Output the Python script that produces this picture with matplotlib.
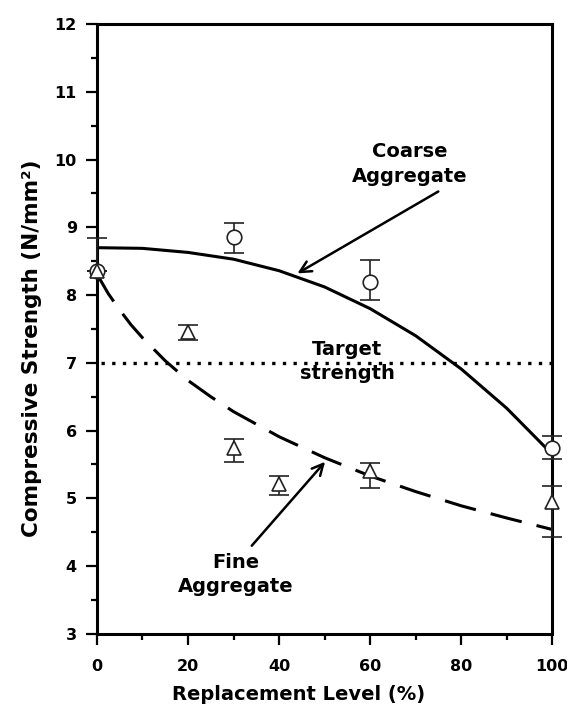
import matplotlib
matplotlib.use("Agg")
import matplotlib.pyplot as plt

plt.rcParams['font.family'] = ['DejaVu Sans']
plt.rcParams['font.weight'] = 'bold'

# Measured points
coarse_x = [0, 30, 60, 100]
coarse_y = [8.35, 8.86, 8.20, 5.74]
coarse_err_lo = [0.0, 0.24, 0.27, 0.16]
coarse_err_hi = [0.50, 0.20, 0.32, 0.18]

fine_x = [0, 20, 30, 40, 60, 100]
fine_y = [8.35, 7.45, 5.75, 5.21, 5.40, 4.95]
fine_err_lo = [0.0, 0.11, 0.22, 0.16, 0.25, 0.52]
fine_err_hi = [0.0, 0.11, 0.13, 0.12, 0.12, 0.23]

# Trend lines
coarse_fit_x = [0, 10, 20, 30, 40, 50, 60, 70, 80, 90, 100]
coarse_fit_y = [8.70, 8.69, 8.63, 8.53, 8.36, 8.12, 7.80, 7.40, 6.91, 6.33, 5.65]

fine_fit_x = [0, 2.5, 5, 7.5, 10, 15, 20, 25, 30, 40, 50, 60, 70, 80, 90, 100]
fine_fit_y = [8.31, 8.02, 7.78, 7.56, 7.37, 7.03, 6.74, 6.50, 6.28, 5.91, 5.60,
              5.33, 5.10, 4.89, 4.71, 4.54]

target_x = [0.8, 100]
target_y = [7.0, 7.0]

fig = plt.figure(figsize=(5.67, 7.09), dpi=100)
ax = fig.add_axes([0.171, 0.106, 0.803, 0.860])

ax.plot(coarse_fit_x, coarse_fit_y, color='black', lw=2.2, zorder=3)
ax.plot(fine_fit_x, fine_fit_y, color='black', lw=2.2, dashes=(10.5, 5), zorder=3)
ax.plot(target_x, target_y, color='black', lw=2.4, linestyle=(0, (1, 2.2)), zorder=3)

ax.errorbar(coarse_x, coarse_y, yerr=[coarse_err_lo, coarse_err_hi], fmt='o',
            ms=10.5, mfc='white', mec='#222222', mew=1.2, ecolor='#222222',
            elinewidth=1.2, capsize=7, capthick=1.2, clip_on=False, zorder=5)
ax.errorbar(fine_x, fine_y, yerr=[fine_err_lo, fine_err_hi], fmt='^',
            ms=10, mfc='white', mec='#222222', mew=1.2, ecolor='#222222',
            elinewidth=1.2, capsize=7, capthick=1.2, clip_on=False, zorder=5)

ax.text(68.8, 9.93, "Coarse\nAggregate", ha='center', va='center', fontsize=14,
        fontweight='bold', linespacing=1.4)
ax.annotate("", xy=(43.5, 8.30), xytext=(75.5, 9.55),
            arrowprops=dict(arrowstyle='->', lw=1.8, color='black',
                            mutation_scale=20))
ax.text(55, 7.02, "Target\nstrength", ha='center', va='center', fontsize=14,
        fontweight='bold', linespacing=1.3, zorder=4)
ax.text(30.5, 3.88, "Fine\nAggregate", ha='center', va='center', fontsize=14,
        fontweight='bold', linespacing=1.35)
ax.annotate("", xy=(50.5, 5.57), xytext=(33.6, 4.27),
            arrowprops=dict(arrowstyle='->', lw=1.8, color='black',
                            mutation_scale=20))

ax.set_xlim(0, 100)
ax.set_ylim(3, 12)
ax.set_xticks(range(0, 101, 20))
ax.set_xticks(range(10, 100, 20), minor=True)
ax.set_yticks(range(3, 13))
ax.set_yticks([v + 0.5 for v in range(3, 12)], minor=True)

for s in ax.spines.values():
    s.set_linewidth(2.2)
ax.tick_params(which='major', direction='out', length=8, width=1.6,
               labelsize=11.5, pad=6.5)
ax.tick_params(which='minor', direction='out', length=4.5, width=1.6)
ax.tick_params(axis='x', which='major', pad=10)
for lab in ax.get_xticklabels() + ax.get_yticklabels():
    lab.set_fontweight('bold')

ax.set_xlabel("Replacement Level (%)", fontsize=14, fontweight='bold', labelpad=8)
ax.set_ylabel("Compressive Strength (N/mm²)", fontsize=15.5, fontweight='bold',
              labelpad=9)
ax.xaxis.label.set_x(0.442)
ax.yaxis.label.set_y(0.469)

plt.savefig("out.png", dpi=100)
